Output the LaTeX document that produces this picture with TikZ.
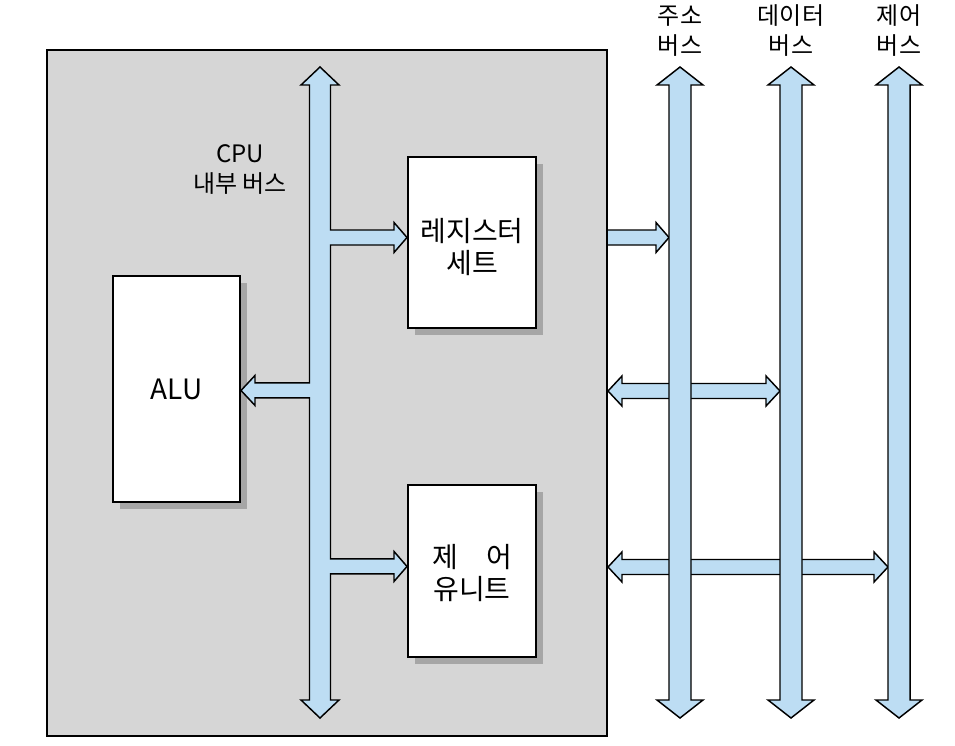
\documentclass[tikz,border=0pt]{standalone}
\usepackage{fontspec}
\setmainfont{Noto Sans CJK KR}
\usepackage{tikz}
\usetikzlibrary{calc,shadows}
\definecolor{busblue}{RGB}{189,221,243}
\definecolor{cpugray}{RGB}{214,214,214}
\definecolor{shadowgray}{RGB}{166,166,166}

\begin{document}
\begin{tikzpicture}[x=0.75pt,y=-0.75pt,
	bus/.style={draw=black, line width=1.1pt, fill=busblue, line join=miter},
	unitbox/.style={draw=black, line width=1.5pt, fill=white, align=center,
		font=\fontsize{21}{22}\selectfont,
		drop shadow={shadow xshift=5.5pt, shadow yshift=-5.5pt, fill=shadowgray, opacity=1}},
	buslabel/.style={align=center, font=\fontsize{18}{22.5}\selectfont}]
		%\draw [help lines] (0,0) grid (955,745);
		\useasboundingbox (0,0) rectangle (955,745);
		%CPU
		\node [draw, line width=1.5pt, fill=cpugray, minimum width=420pt, minimum height=514.5pt] (cpu) at (327,393) {};
		\node [buslabel] (cpulbl) at (240,169) {CPU\\내부 버스};
		%unita
		\node [unitbox, minimum width=95.25pt, minimum height=169.5pt] (alu) at (176.5,389) {ALU};
		\node [unitbox, minimum width=96pt, minimum height=128.25pt] (reg) at (472,242.5)
			{\raisebox{-6pt}[\height][\depth]{\begin{tabular}{@{}c@{}}레지스터\\세트\end{tabular}}};
		\node [unitbox, minimum width=96pt, minimum height=129pt] (ctrl) at (472,571)
			{\raisebox{-4pt}[\height][\depth]{\begin{tabular}{@{}c@{}}제\hspace{1em}어\\유니트\end{tabular}}};
		%bus interno
		\coordinate (regin) at ([yshift=3.75pt]reg.west);
		\coordinate (ctrlin) at ([yshift=3.4pt]ctrl.west);
		\coordinate (aluin) at ([yshift=-1.1pt]alu.east);
		\coordinate (ibt) at (320,67);
		\coordinate (ibb) at (320,718);
		\draw [bus] (ibt) -- ++(19,18) -- ++(-8.5,0)
			-- ($(ibt |- regin)+(10.5,-7.5)$) -- ($(regin)+(-13,-7.5)$) -- ++(0,-7.5) -- (regin)
			-- ($(regin)+(-13,15)$) -- ++(0,-7.5) -- ($(ibt |- regin)+(10.5,7.5)$)
			-- ($(ibt |- ctrlin)+(10.5,-7.5)$) -- ($(ctrlin)+(-13,-7.5)$) -- ++(0,-7.5) -- (ctrlin)
			-- ($(ctrlin)+(-13,15)$) -- ++(0,-7.5) -- ($(ibt |- ctrlin)+(10.5,7.5)$)
			-- ($(ibb)+(10.5,-18)$) -- ++(8.5,0) -- (ibb) -- ++(-19,-18) -- ++(8.5,0)
			-- ($(ibt |- aluin)+(-10.5,7.5)$) -- ($(aluin)+(14,7.5)$) -- ++(0,7.5) -- (aluin)
			-- ($(aluin)+(14,-15)$) -- ++(0,7.5) -- ($(ibt |- aluin)+(-10.5,-7.5)$)
			-- ($(ibt)+(-10.5,18)$) -- ++(-8.5,0) -- cycle;
		%bus esterni
		\foreach \bx/\bn/\bt in {680/abus/주소, 791/dbus/데이터, 899/cbus/제어}{
			\coordinate (\bn) at (\bx,392);
			\node [buslabel] (\bn lbl) at (\bx,31) {\bt\\버스};
		}
		\coordinate (ra) at (cpu.east |- regin);
		\coordinate (rb) at (abus |- regin);
		\draw [bus] ($(ra)+(0,-7.5)$) -- ($(rb)+(-24,-7.5)$) -- ++(0,-7.5) -- ($(rb)+(-11,0)$)
			-- ($(rb)+(-24,15)$) -- ++(0,-7.5) -- ($(ra)+(0,7.5)$);
		\foreach \by/\bn in {391/dbus, 567/cbus}{
			\coordinate (l) at (cpu.east |- 0,\by);
			\coordinate (r) at (\bn |- 0,\by);
			\draw [bus] (l) -- ++(14,-15) -- ++(0,7.5) -- ($(r)+(-25,-7.5)$) -- ++(0,-7.5) -- ($(r)+(-11,0)$)
				-- ($(r)+(-25,15)$) -- ++(0,-7.5) -- ($(l)+(14,7.5)$) -- ++(0,7.5) -- cycle;
		}
		\foreach \bn in {abus, dbus, cbus}
			\draw [bus] ($(\bn)+(0,-325)$) -- ++(23,18) -- ++(-12,0) -- ++(0,615) -- ++(12,0) -- ++(-23,18)
				-- ++(-23,-18) -- ++(12,0) -- ++(0,-615) -- ++(-12,0) -- cycle;
\end{tikzpicture}
\end{document}
